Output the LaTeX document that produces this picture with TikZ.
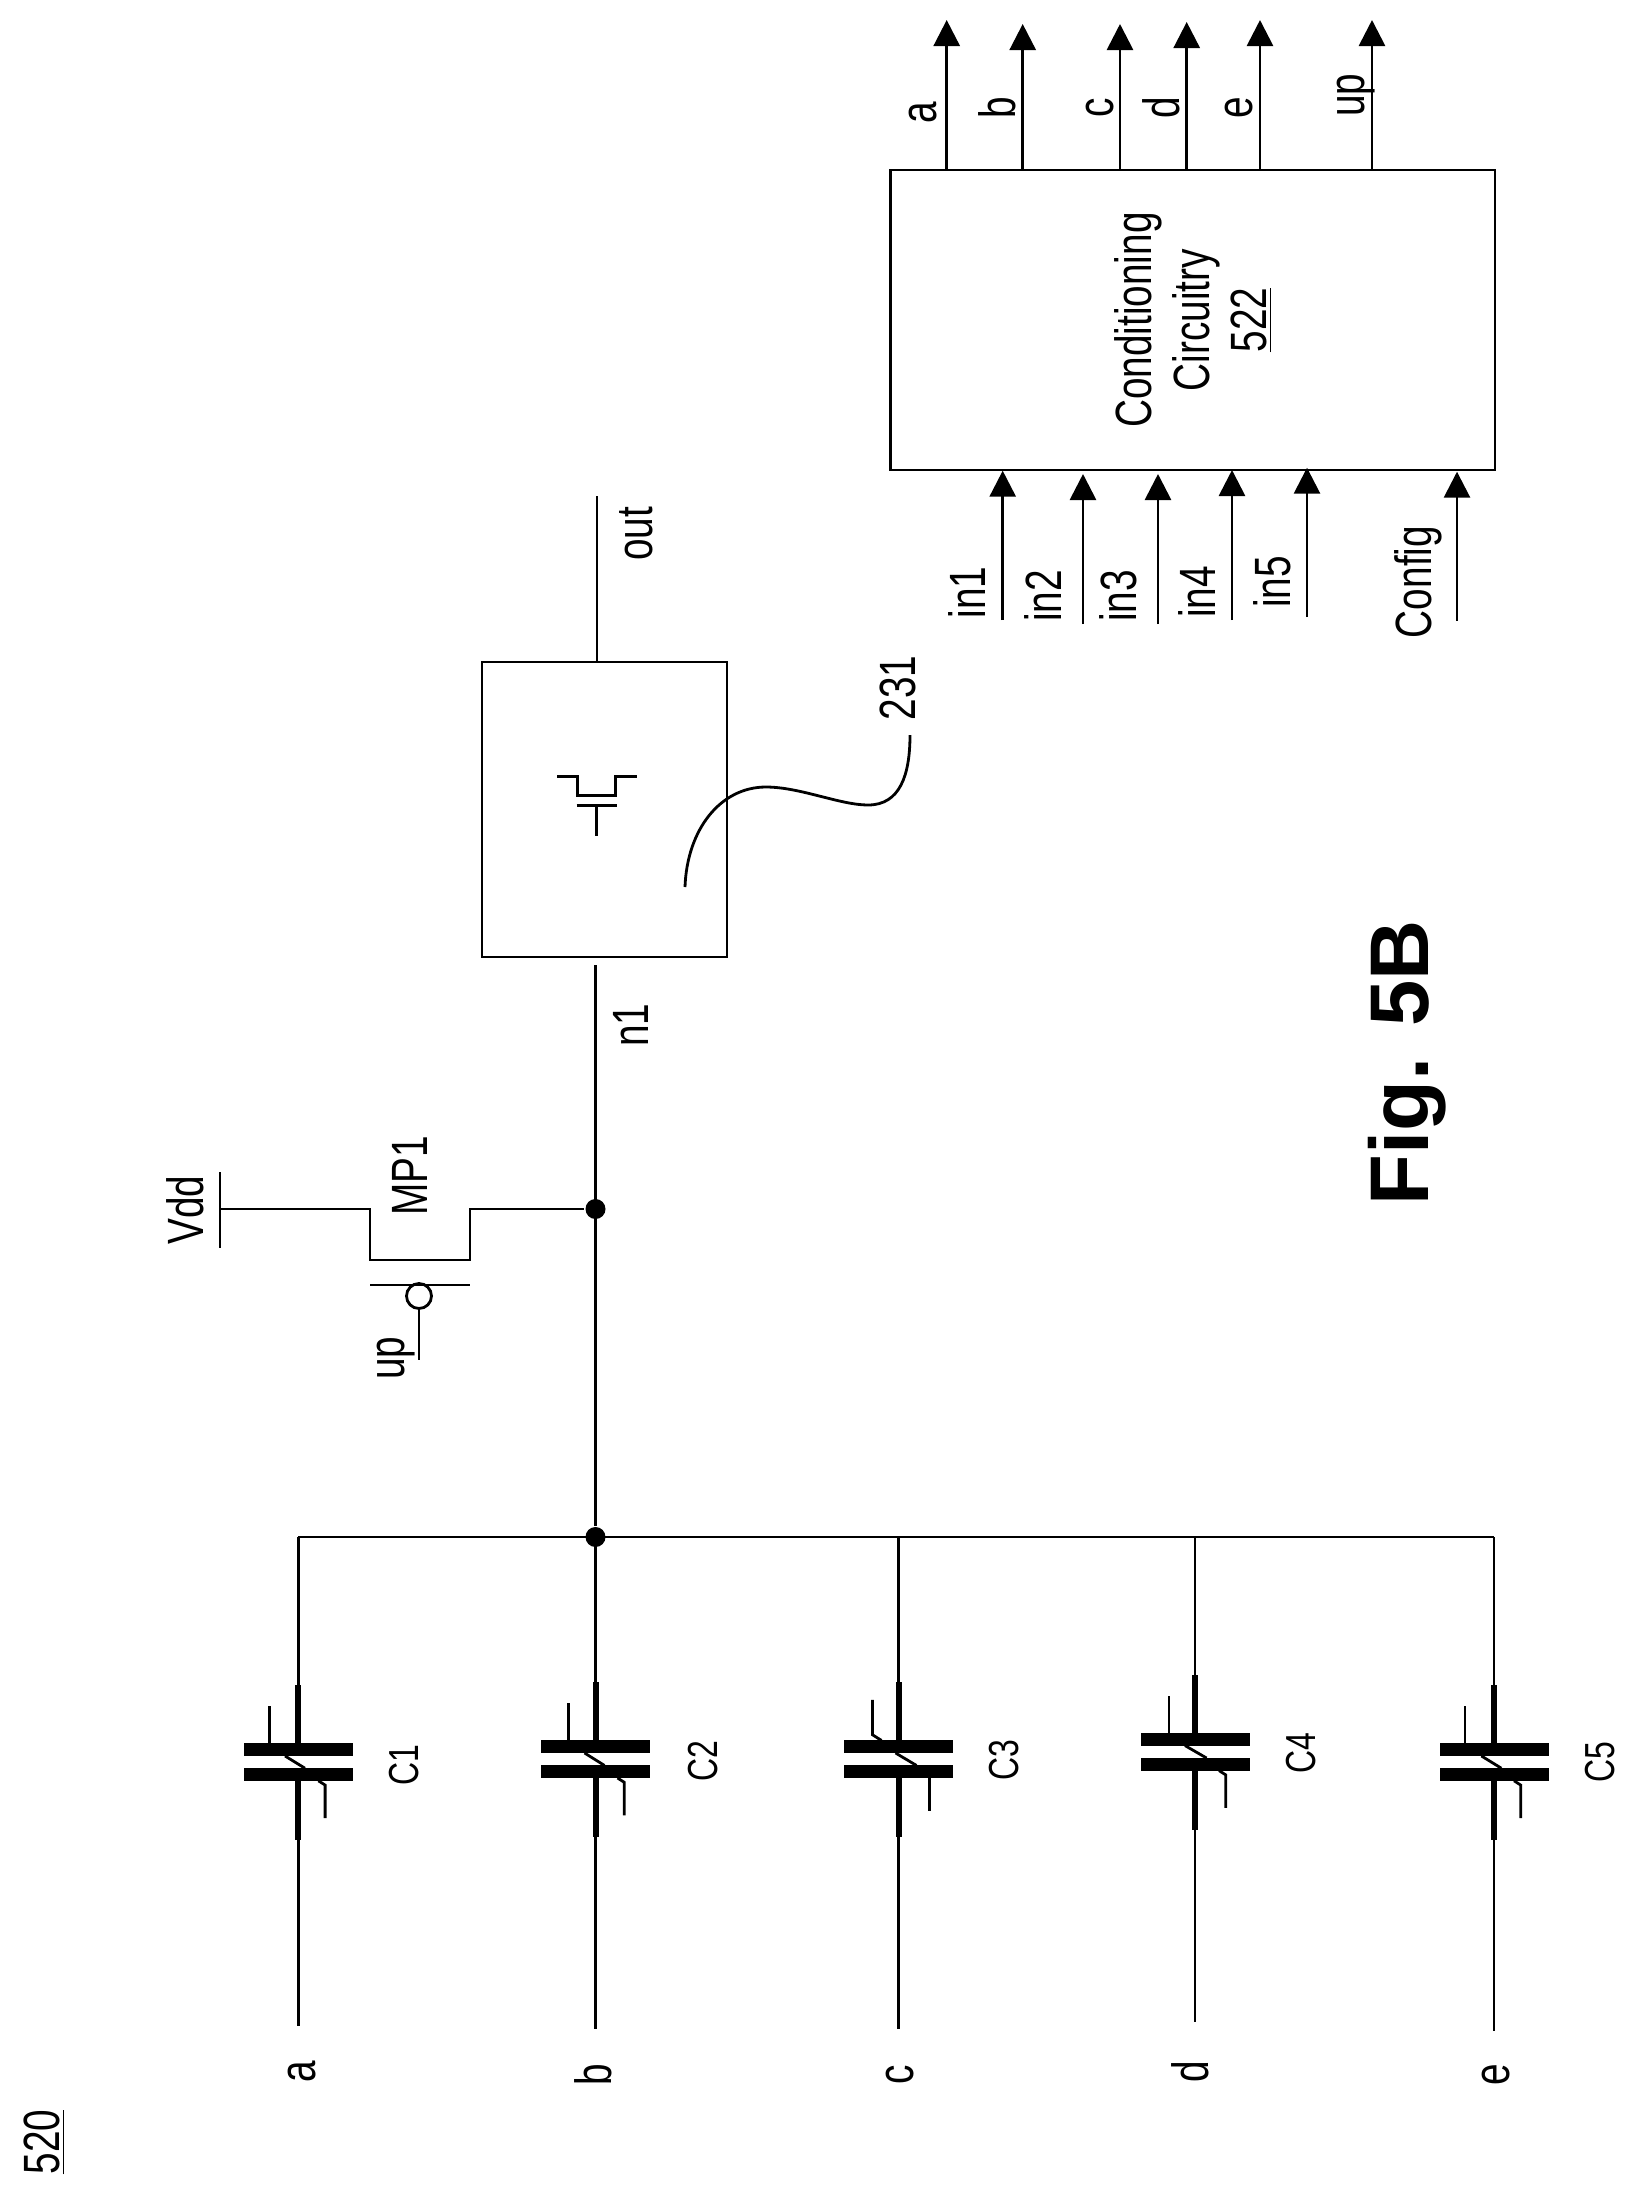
\documentclass[tikz,border=0pt]{standalone}
\usepackage{fontspec}
\setmainfont[FakeStretch=0.76]{Liberation Sans}
\newfontfamily\figfont{Liberation Sans}
\usetikzlibrary{arrows.meta,positioning}

\begin{document}
\begin{tikzpicture}[x=0.5pt,y=-0.5pt,line width=1.4pt]
	\tikzstyle{word}
	  =[rotate=90, anchor=base, inner sep=0pt,
	  font=\fontsize{25.5}{28.75}\selectfont]
	\tikzstyle{word_s}
	  =[word, font=\fontsize{21}{25}\selectfont]
	\tikzstyle{plate}
	  =[fill=black, rectangle, inner sep=0pt, outer sep=0pt,
	  minimum width=54.5pt, minimum height=6.25pt]
	\tikzstyle{lead}
	  =[line width=3pt]
	\tikzstyle{dot}
	  =[fill=black, circle, inner sep=0pt, minimum size=10pt]
	\tikzstyle{sig}
	  =[-{Triangle[length=13pt,width=13pt]}]

	\useasboundingbox (0,0) rectangle (1635,2197);

	\node[word] (title) at (60,2142) {\underline{520}};
	\node[word] (fig)
	  at (1428,1063) {\figfont\fontsize{41.6}{46}\selectfont\bfseries Fig. 5B};

	\node[dot] (j_bus) at (595.5,1537) {};
	\node[dot] (j_mp) at (595.5,1209) {};

	\coordinate (c1join) at (298.4,1537);
	\node[plate] (c1top) at (298.4,1749.7) {};
	\node[plate] (c1bot) at (298.4,1774.5) {};
	\coordinate (c1end) at (298.4,2026);
	\node[word] (a_in) at (315,2072) {a};
	\node[word_s] (c1) at (418,1765) {C1};
	\draw (c1join)--(c1top);
	\draw (c1bot)--(c1end);
	\draw[lead] (c1top.north)--++(0,-58);
	\draw[lead] (c1bot.south)--++(0,59);
	\draw ([xshift=-14.5pt]c1top.north)--++(0,-37);
	\draw ([xshift=10pt]c1bot.south)--++(6.7,4.3)--++(0,33);
	\draw ([xshift=-6.7pt]c1top.south)--([xshift=3.3pt]c1bot.north);

	\coordinate (c2join) at (j_bus);
	\node[plate] (c2top) at (595.5,1746.7) {};
	\node[plate] (c2bot) at (595.5,1771.7) {};
	\coordinate (c2end) at (595.5,2029);
	\node[word] (b_in) at (611,2075) {b};
	\node[word_s] (c2) at (717,1761) {C2};
	\draw (c2join)--(c2top);
	\draw (c2bot)--(c2end);
	\draw[lead] (c2top.north)--++(0,-58);
	\draw[lead] (c2bot.south)--++(0,59);
	\draw ([xshift=-13.5pt]c2top.north)--++(0,-37);
	\draw ([xshift=11pt]c2bot.south)--++(6.7,4.3)--++(0,33);
	\draw ([xshift=-5.5pt]c2top.south)--([xshift=4.5pt]c2bot.north);

	\coordinate (c3join) at (898.5,1537);
	\node[plate] (c3top) at (898.5,1746.7) {};
	\node[plate] (c3bot) at (898.5,1771.7) {};
	\coordinate (c3end) at (898.5,2029);
	\node[word] (c_in) at (913,2075) {c};
	\node[word_s] (c3) at (1018,1760) {C3};
	\draw (c3join)--(c3top);
	\draw (c3bot)--(c3end);
	\draw[lead] (c3top.north)--++(0,-58);
	\draw[lead] (c3bot.south)--++(0,59);
	\draw ([xshift=-8.5pt]c3top.north)--++(-9,-5.7)--++(0,-35);
	\draw ([xshift=15.5pt]c3bot.south)--++(0,33);
	\draw ([xshift=-1.5pt]c3top.south)--([xshift=9pt]c3bot.north);

	\coordinate (c4join) at (1195,1537);
	\node[plate] (c4top) at (1195,1739.3) {};
	\node[plate] (c4bot) at (1195,1764.3) {};
	\coordinate (c4end) at (1195,2022);
	\node[word] (d_in) at (1208,2072) {d};
	\node[word_s] (c4) at (1315,1753) {C4};
	\draw (c4join)--(c4top);
	\draw (c4bot)--(c4end);
	\draw[lead] (c4top.north)--++(0,-58);
	\draw[lead] (c4bot.south)--++(0,59);
	\draw ([xshift=-13pt]c4top.north)--++(0,-37);
	\draw ([xshift=12pt]c4bot.south)--++(6.7,4.3)--++(0,33);
	\draw ([xshift=-5pt]c4top.south)--([xshift=5.8pt]c4bot.north);

	\coordinate (c5join) at (1494,1537);
	\node[plate] (c5top) at (1494,1749.7) {};
	\node[plate] (c5bot) at (1494,1774.5) {};
	\coordinate (c5end) at (1494,2031);
	\node[word] (e_in) at (1509,2075) {e};
	\node[word_s] (c5) at (1614,1762) {C5};
	\draw (c5join)--(c5top);
	\draw (c5bot)--(c5end);
	\draw[lead] (c5top.north)--++(0,-58);
	\draw[lead] (c5bot.south)--++(0,59);
	\draw ([xshift=-14.5pt]c5top.north)--++(0,-37);
	\draw ([xshift=10pt]c5bot.south)--++(6.7,4.3)--++(0,33);
	\draw ([xshift=-6.3pt]c5top.south)--([xshift=3.7pt]c5bot.north);

	\draw (c1join)--(c5join);

	\coordinate (vdd) at (220,1209);
	\coordinate (vdd_l) at (220,1172);
	\coordinate (vdd_r) at (220,1248);
	\coordinate (mp_s) at (370,1260);
	\coordinate (mp_d) at (470,1260);
	\coordinate (mp_gl) at (370,1285);
	\coordinate (mp_gr) at (470,1285);
	\coordinate (mp_in) at (419,1360);
	\node[draw, circle, inner sep=0pt, minimum size=12.5pt] (bubble)
	  at (419,1296) {};
	\node[word] (vdd_t) at (203,1210) {Vdd};
	\node[word] (mp1) at (427,1176) {MP1};
	\node[word] (up_in) at (404,1358) {up};
	\draw (vdd_l)--(vdd_r);
	\draw (vdd)-|(mp_s)--(mp_d)|-(j_mp);
	\draw (mp_gl)--(mp_gr);
	\draw (bubble)--(mp_in);

	\node[draw, rectangle, inner sep=0pt, minimum width=122.5pt,
	  minimum height=147.5pt] (stage) at (604.5,809.5) {};
	\coordinate (n1end) at (595.5,965);
	\coordinate (outend) at (597,496);
	\node[word] (n1) at (648,1025) {n1};
	\node[word] (out) at (652,534) {out};
	\draw (n1end)--(j_bus);
	\draw (stage.north -| outend)--(outend);

	\coordinate (tr_a) at (557.3,776.7);
	\coordinate (tr_b) at (577.3,795.7);
	\coordinate (tr_c) at (615.7,795.7);
	\coordinate (tr_d) at (636.7,776.7);
	\coordinate (tr_gl) at (576.7,805.7);
	\coordinate (tr_gr) at (616.7,805.7);
	\coordinate (tr_g) at (596.7,805.7);
	\coordinate (tr_in) at (596.7,835.7);
	\draw (tr_a)-|(tr_b)--(tr_c)|-(tr_d);
	\draw (tr_gl)--(tr_gr);
	\draw (tr_g)--(tr_in);

	\coordinate (ref_a) at (685,887);
	\coordinate (ref_b) at (766,787);
	\coordinate (ref_c) at (868,805);
	\coordinate (ref_d) at (910,735);
	\node[word] (ref) at (915,688) {231};
	\draw (ref_a) .. controls (687,830) and (720,787) .. (ref_b)
	  .. controls (800,787) and (840,805) .. (ref_c)
	  .. controls (900,805) and (910,775) .. (ref_d);

	\node[draw, rectangle, inner sep=0pt, minimum width=302.15pt,
	  minimum height=150pt] (cond) at (1192.85,320) {};
	\node[word, anchor=center, align=center] (cond_t)
	  at (1193,320) {Conditioning\\Circuitry\\\underline{522}};

	\coordinate (a_tip) at (946.7,20);
	\coordinate (b_tip) at (1022.7,24);
	\coordinate (c_tip) at (1120,24);
	\coordinate (d_tip) at (1186.7,22);
	\coordinate (e_tip) at (1260,20);
	\coordinate (up_tip) at (1372,20);
	\draw[sig] (a_tip |- cond.north)--(a_tip);
	\draw[sig] (b_tip |- cond.north)--(b_tip);
	\draw[sig] (c_tip |- cond.north)--(c_tip);
	\draw[sig] (d_tip |- cond.north)--(d_tip);
	\draw[sig] (e_tip |- cond.north)--(e_tip);
	\draw[sig] (up_tip |- cond.north)--(up_tip);
	\node[word] (a_out) at (936,113) {a};
	\node[word] (b_out) at (1015,108) {b};
	\node[word] (c_out) at (1113,108) {c};
	\node[word] (d_out) at (1179,108) {d};
	\node[word] (e_out) at (1252.7,108) {e};
	\node[word] (up_out) at (1364,95) {up};

	\coordinate (in1a) at (1002.7,620);
	\coordinate (in1b) at (1002.7,470.7);
	\coordinate (in2a) at (1083,624);
	\coordinate (in2b) at (1083,474);
	\coordinate (in3a) at (1158,624);
	\coordinate (in3b) at (1158,474);
	\coordinate (in4a) at (1232,620);
	\coordinate (in4b) at (1232,470);
	\coordinate (in5a) at (1307,617);
	\coordinate (in5b) at (1307,467.7);
	\coordinate (cfga) at (1457,620.7);
	\coordinate (cfgb) at (1457,471.7);
	\draw[sig] (in1a)--(in1b);
	\draw[sig] (in2a)--(in2b);
	\draw[sig] (in3a)--(in3b);
	\draw[sig] (in4a)--(in4b);
	\draw[sig] (in5a)--(in5b);
	\draw[sig] (cfga)--(cfgb);
	\node[word] (in1) at (985,592.5) {in1};
	\node[word] (in2) at (1061,596) {in2};
	\node[word] (in3) at (1136,596) {in3};
	\node[word] (in4) at (1215,592) {in4};
	\node[word] (in5) at (1290,582) {in5};
	\node[word] (cfg) at (1431,582) {Config};
\end{tikzpicture}
\end{document}
